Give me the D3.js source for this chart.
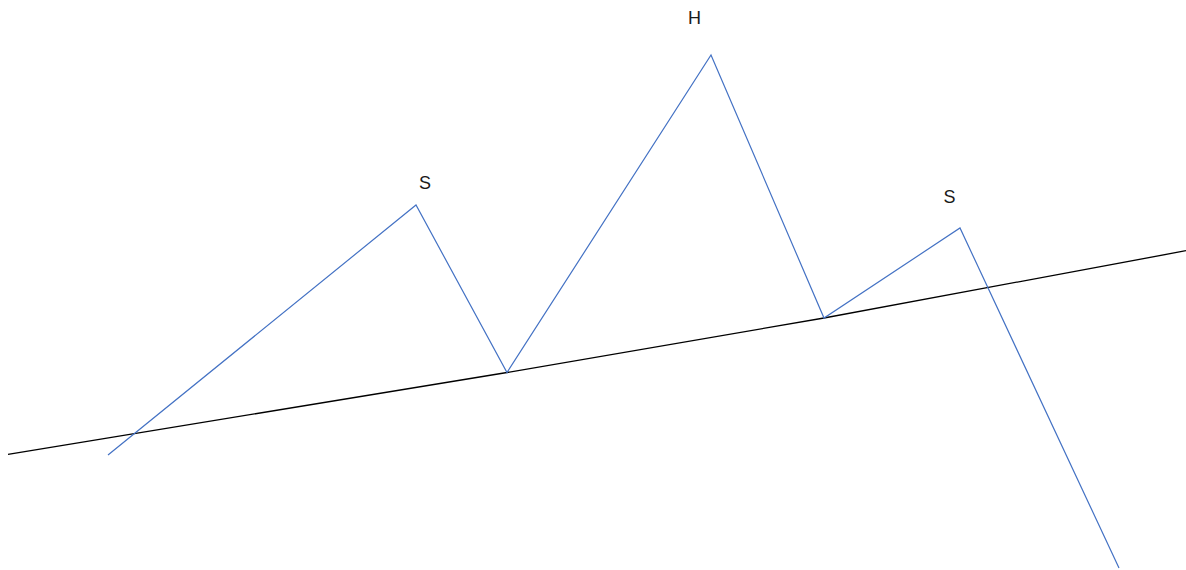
<!DOCTYPE html>
<html>
<head>
<meta charset="utf-8">
<script src="https://cdn.jsdelivr.net/npm/d3@7"></script>
<style>
  body { margin: 0; background: #fff; }
  svg { display: block; }
</style>
</head>
<body>
<svg id="chart" width="1186" height="570"></svg>
<script>
// price path (time, price)
const pathTimes = [108, 416, 507, 711, 824, 960, 1119];
const pathPrices = [115, 365, 197.5, 515, 252, 342, 2];

// neckline, touching both troughs
const neckTimes = [8, 507, 824, 1186];
const neckPrices = [115.7, 197.5, 252, 319.3];

// labels over the peaks
const labelText = ["S", "H", "S"];
const labelTimes = [425, 694.5, 949.5];
const labelPrices = [381, 546, 367];

const svg = d3.select("#chart"),
  width = +svg.attr("width"),
  height = +svg.attr("height");

const x = d3.scaleLinear().domain([0, 1186]).range([0, width]);
const y = d3.scaleLinear().domain([0, 570]).range([height, 0]);

const line = d3.line()
  .x(function(d) { return x(d[0]); })
  .y(function(d) { return y(d[1]); });

svg.append("path")
  .datum(d3.zip(neckTimes, neckPrices))
  .attr("fill", "none")
  .attr("stroke", "#000")
  .attr("stroke-width", 1.3)
  .attr("d", line);

svg.append("path")
  .datum(d3.zip(pathTimes, pathPrices))
  .attr("fill", "none")
  .attr("stroke", "#4472c4")
  .attr("stroke-width", 1.2)
  .attr("stroke-linejoin", "miter")
  .attr("d", line);

svg.selectAll(".lbl")
  .data(labelText)
  .enter().append("text")
  .attr("class", "lbl")
  .attr("x", function(d, i) { return x(labelTimes[i]); })
  .attr("y", function(d, i) { return y(labelPrices[i]); })
  .attr("text-anchor", "middle")
  .attr("font-family", "Liberation Sans, Arial, sans-serif")
  .attr("font-size", 18)
  .attr("fill", "#1a1a1a")
  .text(function(d) { return d; });
</script>
</body>
</html>
